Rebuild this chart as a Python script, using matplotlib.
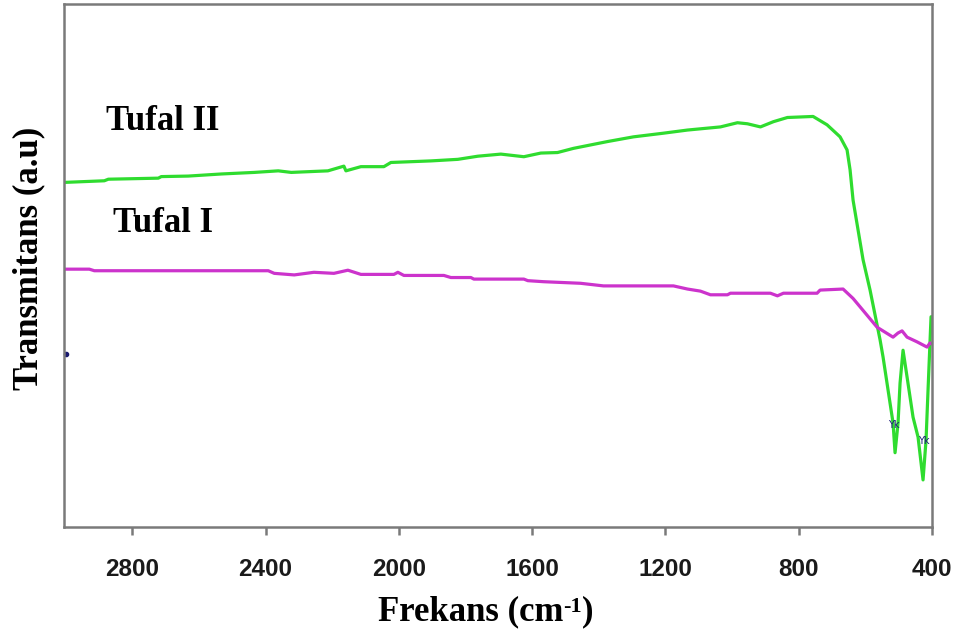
import matplotlib
matplotlib.use("Agg")
import matplotlib.pyplot as plt

# FTIR spectra (wavenumber in cm^-1, transmittance in arbitrary units)
wn_tufal2 = [3000, 2884, 2872, 2722, 2713, 2632, 2533, 2434, 2362, 2323, 2213,
             2165, 2159, 2114, 2045, 2024, 1904, 1823, 1763, 1694, 1625, 1574,
             1524, 1476, 1374, 1296, 1206, 1134, 1035, 984, 954, 915, 876, 834,
             757, 715, 676, 655, 646, 637, 607, 586, 556, 547, 532, 517, 511,
             502, 496, 487, 475, 457, 442, 427, 418, 412, 403, 400]
t_tufal2 = [65.9, 66.2, 66.5, 66.7, 67.0, 67.1, 67.5, 67.8, 68.1, 67.8, 68.1,
            69.0, 68.1, 68.9, 68.9, 69.7, 70.0, 70.3, 70.9, 71.3, 70.8, 71.5,
            71.6, 72.4, 73.7, 74.6, 75.3, 75.9, 76.5, 77.3, 77.1, 76.5, 77.5, 78.3,
            78.5, 76.9, 74.6, 72.1, 68.3, 62.5, 51.1, 45.3, 35.8, 32.5, 26.2, 19.9, 14.2,
            19.9, 27.5, 33.8, 28.7, 21.0, 17.2, 9.0, 16.6, 26.2, 40.2, 40.2]

wn_tufal1 = [3000, 2929, 2914, 2392, 2374, 2314, 2255, 2195, 2153, 2114, 2015,
             2003, 1985, 1865, 1844, 1784, 1775, 1625, 1613, 1565, 1455, 1386,
             1176, 1134, 1095, 1065, 1014, 1005, 885, 864, 846, 745, 736, 667,
             637, 616, 565, 517, 502, 490, 475, 445, 415, 406, 400]
t_tufal1 = [49.3, 49.3, 49.0, 49.0, 48.5, 48.2, 48.7, 48.5, 49.1, 48.3, 48.3,
            48.7, 48.1, 48.1, 47.7, 47.7, 47.4, 47.4, 47.1, 46.9, 46.6, 46.1,
            46.1, 45.5, 45.1, 44.4, 44.4, 44.7, 44.7, 44.2, 44.7, 44.7, 45.3, 45.5,
            43.7, 42.1, 38.2, 36.3, 37.1, 37.5, 36.3, 35.4, 34.4, 35.2, 35.0]

x_ticks = [2800, 2400, 2000, 1600, 1200, 800, 400]

serif = ["Liberation Serif", "DejaVu Serif"]

fig = plt.figure(figsize=(9.58, 6.37), dpi=100)
ax = fig.add_axes([0.0668, 0.1727, 0.9061, 0.821])

ax.plot(wn_tufal2, t_tufal2, color="#2fdc2f", lw=2.3, solid_joinstyle="round")
ax.plot(wn_tufal1, t_tufal1, color="#cc33cc", lw=2.3, solid_joinstyle="round")

# peak-pick marks left by the spectrometer software
ax.plot([3000], [33.0], marker="o", ms=3, color="#1a1a6e", clip_on=False)
ax.text(516, 19.5, "Yk", fontsize=7, color="#1a1a7a", ha="center", va="center")
ax.text(424, 16.5, "Yk", fontsize=7, color="#1a1a7a", ha="center", va="center")

ax.set_xlim(3005, 400)
ax.set_ylim(0, 100)

for s in ax.spines.values():
    s.set_color("#7a7a7a")
    s.set_linewidth(1.8)

ax.set_xticks(x_ticks)
ax.set_xticklabels([str(v) for v in x_ticks], family="Liberation Sans",
                   fontsize=17.5, fontweight="bold", color="#1a1a1a")
ax.tick_params(axis="x", direction="out", length=6, width=1.8, color="#7a7a7a", pad=16)
ax.set_yticks([])

ax.text(0.048, 0.775, "Tufal II", transform=ax.transAxes, family=serif,
        fontweight="bold", fontsize=25, color="black", va="center", ha="left")
ax.text(0.056, 0.58, "Tufal I", transform=ax.transAxes, family=serif,
        fontweight="bold", fontsize=25, color="black", va="center", ha="left")

# x-axis title built from pieces so the exponent stays a small hyphen-one
t_main = fig.text(378 / 958, (637 - 620) / 637, "Frekans (cm", family=serif,
                  fontweight="bold", fontsize=25, ha="left", va="baseline")
t_exp = ax.annotate("-1", xy=(1, 0.95), xycoords=t_main, family=serif,
                    fontweight="bold", fontsize=16, ha="left", va="top",
                    annotation_clip=False)
ax.annotate(")", xy=(1, 0), xycoords=(t_exp, t_main), family=serif,
            fontweight="bold", fontsize=25, ha="left", va="bottom",
            annotation_clip=False)

fig.text(0.030, 0.595, "Transmitans (a.u)", family=serif, fontweight="bold",
         fontsize=25, rotation=90, ha="center", va="center")

fig.savefig("out.png", dpi=100, facecolor="white")
